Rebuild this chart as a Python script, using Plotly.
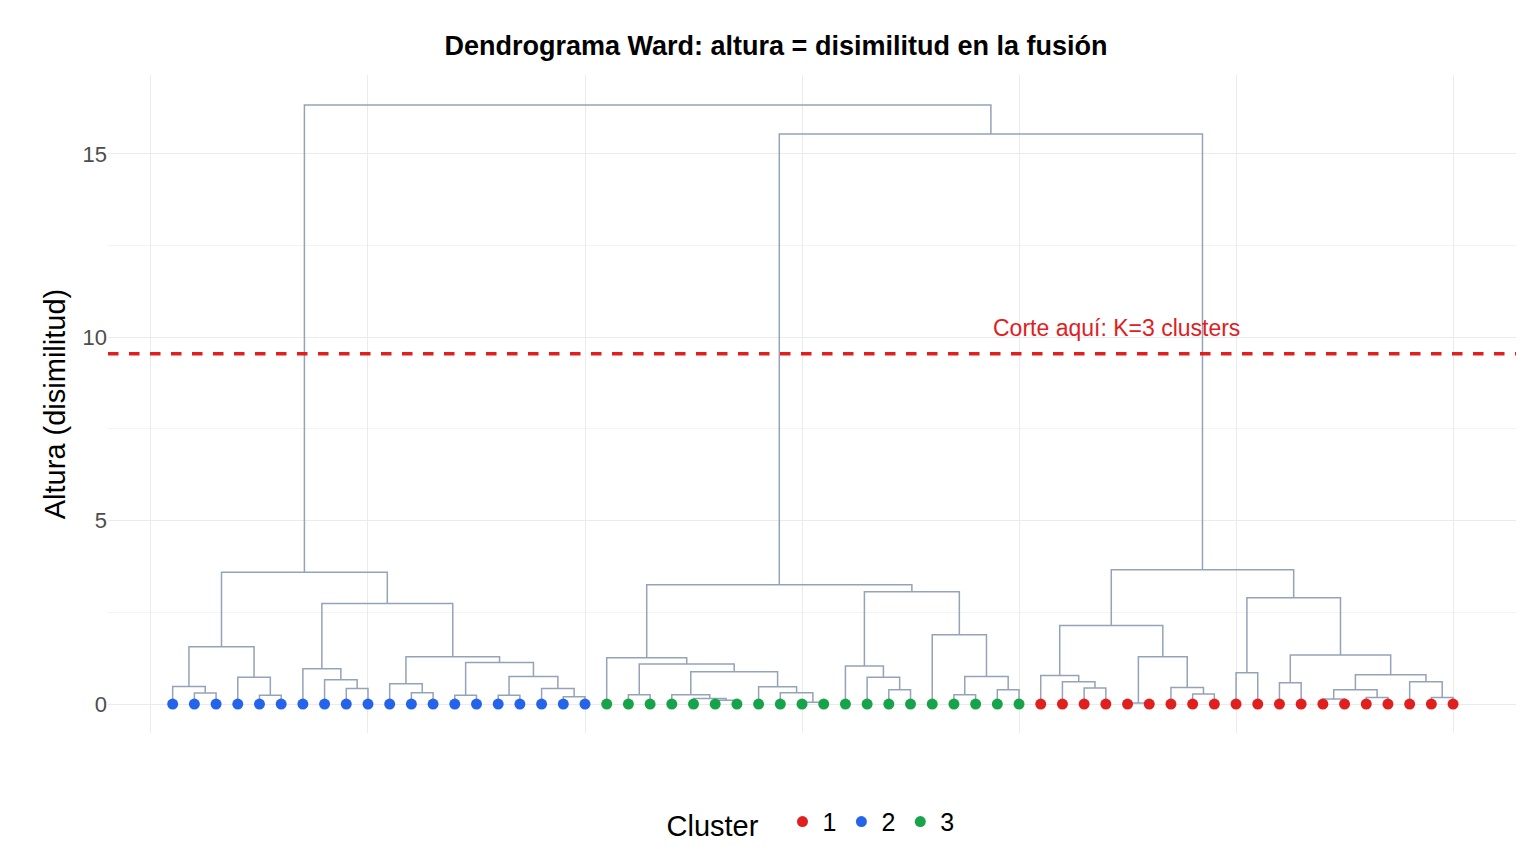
import plotly.graph_objects as go

# Dendrogram structure: [left, right, height]; leaves are integer positions 1..60
blue_tree = [[[1, [2, 3, 0.30], 0.48], [4, [5, 6, 0.24], 0.73], 1.56],
             [[7, [8, [9, 10, 0.42], 0.66], 0.96],
              [[11, [12, 13, 0.31], 0.55],
               [[14, 15, 0.24], [[16, 17, 0.24], [18, [19, 20, 0.20], 0.42], 0.75], 1.13], 1.29], 2.74], 3.59]
green_tree = [[21, [[22, 23, 0.25], [[24, [25, [26, 27, 0.10], 0.15], 0.25],
                                     [28, [29, [30, 31, 0.05], 0.31], 0.47], 0.88], 1.09], 1.26],
              [[32, [33, [34, 35, 0.39], 0.73], 1.04], [36, [[37, 38, 0.25], [39, 40, 0.39], 0.75], 1.89], 3.06], 3.25]
red_tree = [[[41, [42, [43, 44, 0.44], 0.61], 0.78], [[45, 46, 0.03], [47, [48, 49, 0.27], 0.45], 1.29], 2.14],
            [[50, 51, 0.85], [[52, 53, 0.58], [[[54, 55, 0.14], [56, 57, 0.18], 0.39],
                                              [58, [59, 60, 0.18], 0.61], 0.80], 1.34], 2.90], 3.66]
root_tree = [blue_tree, [green_tree, red_tree, 15.54], 16.33]

leaf_pos = list(range(1, 61))
leaf_cluster = [2] * 20 + [3] * 20 + [1] * 20
cluster_names = ["1", "2", "3"]
cluster_colors = {"1": "#E0201F", "2": "#2563EB", "3": "#16A34A"}
cut_height = 9.55
cut_label = "Corte aquí: K=3 clusters"

xs, ys = [], []

def walk(node):
    if isinstance(node, int):
        return float(node), 0.0
    lx, lh = walk(node[0])
    rx, rh = walk(node[1])
    h = node[2]
    xs.extend([lx, lx, rx, rx, None])
    ys.extend([lh, h, h, rh, None])
    return (lx + rx) / 2, h

walk(root_tree)

fig = go.Figure()
fig.add_trace(go.Scatter(x=xs, y=ys, mode="lines", line=dict(color="#94A3B8", width=1.5),
                         showlegend=False, hoverinfo="skip"))
fig.add_hline(y=cut_height, line=dict(color="#E0201F", width=3.5, dash="dash"))
fig.add_annotation(x=44.5, y=cut_height + 0.3, text=cut_label, showarrow=False,
                   yanchor="bottom", font=dict(color="#E0201F", size=23, family="Liberation Sans"))
for c in cluster_names:
    px = [p for p, k in zip(leaf_pos, leaf_cluster) if str(k) == c]
    fig.add_trace(go.Scatter(x=px, y=[0] * len(px), mode="markers", name=c,
                             marker=dict(color=cluster_colors[c], size=11)))

fig.update_layout(
    width=1536, height=864, plot_bgcolor="white", paper_bgcolor="white",
    font=dict(family="Liberation Sans", color="#222"),
    title=dict(text="<b>Dendrograma Ward: altura = disimilitud en la fusión</b>", x=0.5, y=0.956,
               xanchor="center", yanchor="middle", font=dict(size=27, color="black")),
    margin=dict(l=100, r=28, t=67, b=139),
    xaxis=dict(range=[-1.98, 62.9], showticklabels=False, tickvals=[0, 10, 20, 30, 40, 50, 60],
               showgrid=True, gridcolor="#EBEBEB", gridwidth=1.2, zeroline=False),
    yaxis=dict(range=[-0.79, 17.15], tickvals=[0, 5, 10, 15], showgrid=True, gridcolor="#EBEBEB",
               gridwidth=1.2, zeroline=False, tickfont=dict(size=22, color="#4D4D4D"),
               minor=dict(tickvals=[2.5, 7.5, 12.5], showgrid=True, gridcolor="#F3F3F3"),
               title=dict(text="Altura (disimilitud)", font=dict(size=29, color="black"), standoff=8)),
    legend=dict(orientation="h", x=0.5, xanchor="center", y=-0.1, yanchor="top",
                title=dict(text="Cluster  ", font=dict(size=29, color="black")),
                font=dict(size=25, color="black")),
)
fig.write_html("out.html")
